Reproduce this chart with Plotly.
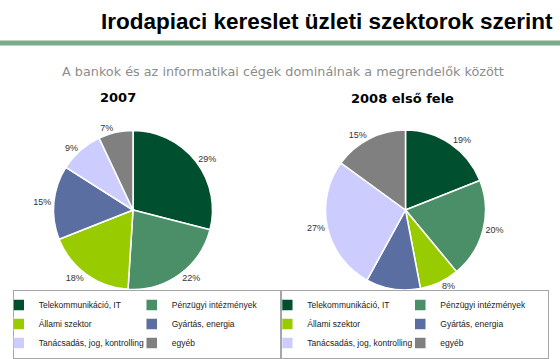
import plotly.graph_objects as go

# ---- data ----
categories = ["Telekommunikáció, IT", "Pénzügyi intézmények", "Állami szektor",
              "Gyártás, energia", "Tanácsadás, jog, kontrolling", "egyéb"]
values_2007 = [29, 22, 18, 15, 9, 7]
values_2008h1 = [19, 20, 8, 11, 27, 15]
pie_titles = ["2007", "2008 első fele"]
main_title = "Irodapiaci kereslet üzleti szektorok szerint"
subtitle = "A bankok és az informatikai cégek dominálnak a megrendelők között"
colors = ["#004f2f", "#4b8f69", "#99cc00", "#5a6ea2", "#ccccff", "#808080"]

W, H = 560, 359
ML, MR, MT, MB = 13, 11, 0, 0
PW = W - ML - MR
PH = H - MT - MB

def px_x(x):
    return (x - ML) / PW

def px_y(y):
    return (H - MB - y) / PH

fig = go.Figure()

pie_common = dict(
    labels=categories,
    sort=False,
    direction="clockwise",
    rotation=0,
    marker=dict(colors=colors, line=dict(color="white", width=1.5)),
    textposition="outside",
    texttemplate="%{percent:.0%}",
    textfont=dict(family="Liberation Sans, Arial", size=9, color="#333333"),
    hoverinfo="label+percent",
    showlegend=True,
)

fig.add_trace(go.Pie(
    values=values_2007,
    domain=dict(x=[px_x(53.5), px_x(212.5)], y=[px_y(289.5), px_y(130.5)]),
    legend="legend",
    legendgroup="y2007",
    **pie_common,
))
fig.add_trace(go.Pie(
    values=values_2008h1,
    domain=dict(x=[px_x(325.5), px_x(485.5)], y=[px_y(290), px_y(130)]),
    legend="legend2",
    legendgroup="y2008",
    **pie_common,
))

legend_common = dict(
    orientation="h",
    traceorder="normal",
    entrywidth=103,
    entrywidthmode="pixels",
    indentation=-15,
    bgcolor="white",
    bordercolor="#a6a6a6",
    borderwidth=1,
    font=dict(family="Liberation Sans, Arial", size=8.5, color="#222222"),
    yanchor="bottom",
    y=px_y(358.5),
    itemclick=False,
    itemdoubleclick=False,
)

fig.update_layout(
    width=W, height=H,
    margin=dict(l=ML, r=MR, t=MT, b=MB, autoexpand=False),
    paper_bgcolor="white",
    plot_bgcolor="white",
    legend=dict(x=-0.0005, xanchor="left", **legend_common),
    legend2=dict(x=1.0005, xanchor="right", **legend_common),
    annotations=[
        dict(text=main_title, xref="paper", yref="paper", x=px_x(555), y=px_y(22),
             xanchor="right", yanchor="middle", showarrow=False,
             font=dict(family="Liberation Sans, Arial", size=22.5, color="#000000", weight="bold")),
        dict(text=subtitle, xref="paper", yref="paper", x=px_x(282.5), y=px_y(71),
             xanchor="center", yanchor="middle", showarrow=False,
             font=dict(family="DejaVu Sans", size=12.8, color="#8c8c8c")),
        dict(text="<b>" + pie_titles[0] + "</b>", xref="paper", yref="paper", x=px_x(118), y=px_y(97),
             xanchor="center", yanchor="middle", showarrow=False,
             font=dict(family="DejaVu Sans", size=13, color="#000000")),
        dict(text="<b>" + pie_titles[1] + "</b>", xref="paper", yref="paper", x=px_x(402), y=px_y(98),
             xanchor="center", yanchor="middle", showarrow=False,
             font=dict(family="DejaVu Sans", size=13, color="#000000")),
    ],
    shapes=[
        dict(type="line", xref="paper", yref="paper", x0=px_x(0), x1=px_x(W),
             y0=px_y(43), y1=px_y(43), line=dict(color="#7aab8b", width=5)),
    ],
)

fig.write_html("out.html", config={"displayModeBar": False},
               post_script="document.body.style.margin='0px';")
